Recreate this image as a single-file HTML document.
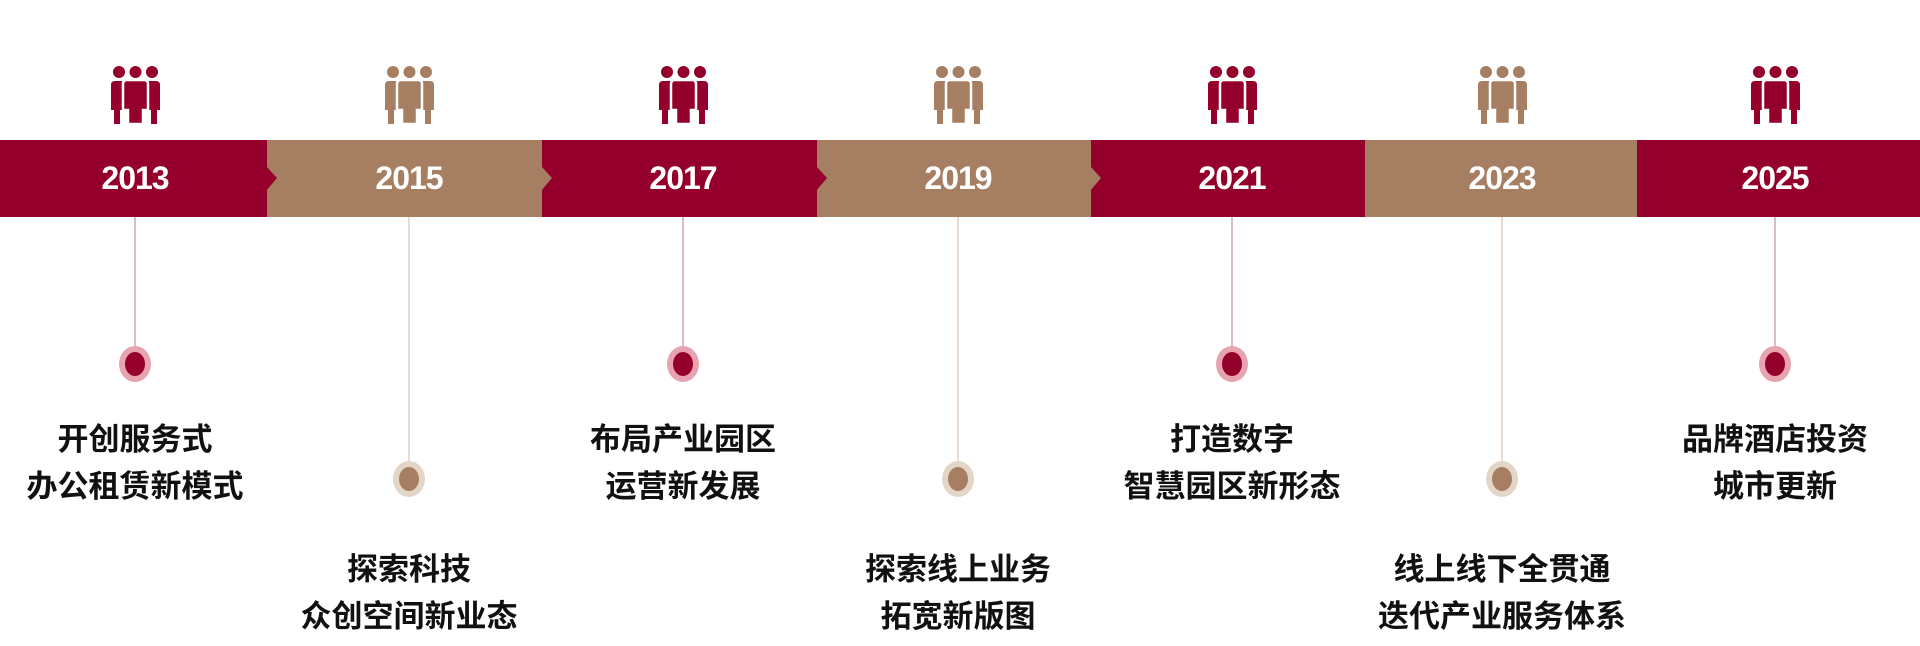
<!DOCTYPE html>
<html><head><meta charset="utf-8"><style>
body{margin:0;width:1920px;height:646px;background:#fff;position:relative;overflow:hidden;font-family:"Liberation Sans","Noto Sans CJK SC",sans-serif}
.a{position:absolute}
.yr{position:absolute;top:140px;height:77px;line-height:77px;color:#fff;font-weight:bold;font-size:32px;text-align:center;letter-spacing:-1px}
.txt{position:absolute;width:340px;text-align:center;font-weight:bold;font-size:31px;color:#111;line-height:47px}
</style></head><body>
<svg class="a" style="left:0;top:0" width="1920" height="646" viewBox="0 0 1920 646">
<defs>
<g id="p">
<circle cx="8" cy="6" r="6"/><circle cx="24.5" cy="6" r="6"/><circle cx="41" cy="6" r="6"/>
<path d="M0 19 Q0 15 4 15 L14 15 L14 44 L9 44 L9 58 L3 58 L3 44 L0 44Z"/>
<path d="M49 19 Q49 15 45 15 L35 15 L35 44 L40 44 L40 58 L46 58 L46 44 L49 44Z"/>
<path d="M12 18 Q12 14 16 14 L33 14 Q37 14 37 18 L37 44 L32 44 L32 58 L17 58 L17 44 L12 44Z" stroke="#fff" stroke-width="2.5"/>
</g>
</defs>
<g fill="#94002B">
<rect x="0" y="140" width="267" height="77"/>
<rect x="542" y="140" width="275" height="77"/>
<rect x="1091" y="140" width="274" height="77"/>
<rect x="1637" y="140" width="283" height="77"/>
</g>
<g fill="#A67F63">
<rect x="267" y="140" width="275" height="77"/>
<rect x="817" y="140" width="274" height="77"/>
<rect x="1365" y="140" width="272" height="77"/>
</g>
<polygon points="266,166 277,178 266,191" fill="#94002B"/>
<polygon points="541,166 552,178 541,191" fill="#A67F63"/>
<polygon points="816,166 827,178 816,191" fill="#94002B"/>
<polygon points="1090,166 1101,178 1090,191" fill="#A67F63"/>
<g stroke-width="1.2">
<line x1="135" y1="217" x2="135" y2="350" stroke="#c9909f"/>
<line x1="409" y1="217" x2="409" y2="465" stroke="#d9c4b5"/>
<line x1="683" y1="217" x2="683" y2="350" stroke="#c9909f"/>
<line x1="958" y1="217" x2="958" y2="465" stroke="#d9c4b5"/>
<line x1="1232" y1="217" x2="1232" y2="350" stroke="#c9909f"/>
<line x1="1502" y1="217" x2="1502" y2="465" stroke="#d9c4b5"/>
<line x1="1775" y1="217" x2="1775" y2="350" stroke="#c9909f"/>
</g>
<g>
<ellipse cx="135" cy="364" rx="16" ry="18" fill="#e8a3b0"/><ellipse cx="135" cy="364" rx="10" ry="12" fill="#94002B"/>
<ellipse cx="683" cy="364" rx="16" ry="18" fill="#e8a3b0"/><ellipse cx="683" cy="364" rx="10" ry="12" fill="#94002B"/>
<ellipse cx="1232" cy="364" rx="16" ry="18" fill="#e8a3b0"/><ellipse cx="1232" cy="364" rx="10" ry="12" fill="#94002B"/>
<ellipse cx="1775" cy="364" rx="16" ry="18" fill="#e8a3b0"/><ellipse cx="1775" cy="364" rx="10" ry="12" fill="#94002B"/>
<ellipse cx="409" cy="479" rx="16" ry="18" fill="#e3d5c8"/><ellipse cx="409" cy="479" rx="10" ry="12" fill="#A67F63"/>
<ellipse cx="958" cy="479" rx="16" ry="18" fill="#e3d5c8"/><ellipse cx="958" cy="479" rx="10" ry="12" fill="#A67F63"/>
<ellipse cx="1502" cy="479" rx="16" ry="18" fill="#e3d5c8"/><ellipse cx="1502" cy="479" rx="10" ry="12" fill="#A67F63"/>
</g>
<use href="#p" x="111" y="66" fill="#94002B"/>
<use href="#p" x="385" y="66" fill="#A67F63"/>
<use href="#p" x="659" y="66" fill="#94002B"/>
<use href="#p" x="934" y="66" fill="#A67F63"/>
<use href="#p" x="1208" y="66" fill="#94002B"/>
<use href="#p" x="1478" y="66" fill="#A67F63"/>
<use href="#p" x="1751" y="66" fill="#94002B"/>
</svg>
<div class="yr" style="left:35px;width:200px">2013</div>
<div class="yr" style="left:309px;width:200px">2015</div>
<div class="yr" style="left:583px;width:200px">2017</div>
<div class="yr" style="left:858px;width:200px">2019</div>
<div class="yr" style="left:1132px;width:200px">2021</div>
<div class="yr" style="left:1402px;width:200px">2023</div>
<div class="yr" style="left:1675px;width:200px">2025</div>
<div class="txt" style="left:-35px;top:416px">开创服务式<br>办公租赁新模式</div>
<div class="txt" style="left:513px;top:416px">布局产业园区<br>运营新发展</div>
<div class="txt" style="left:1062px;top:416px">打造数字<br>智慧园区新形态</div>
<div class="txt" style="left:1605px;top:416px">品牌酒店投资<br>城市更新</div>
<div class="txt" style="left:239px;top:546px">探索科技<br>众创空间新业态</div>
<div class="txt" style="left:788px;top:546px">探索线上业务<br>拓宽新版图</div>
<div class="txt" style="left:1332px;top:546px">线上线下全贯通<br>迭代产业服务体系</div>
</body></html>
